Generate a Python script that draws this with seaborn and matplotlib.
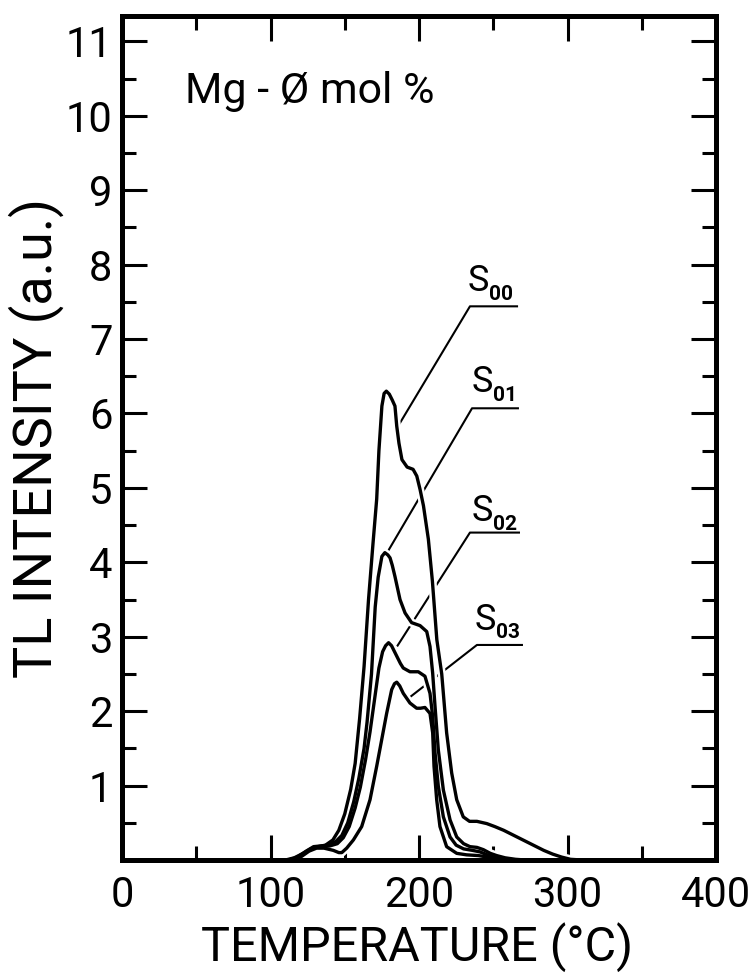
import matplotlib
matplotlib.use("Agg")
import matplotlib.pyplot as plt
import numpy as np
import pandas as pd
import seaborn as sns
from matplotlib.ticker import FixedLocator, MultipleLocator

# ---- glow curves: temperature (°C) and TL intensity (a.u.) ----
s00_temp = [110, 116, 122, 127, 132, 137, 142, 146, 150, 154, 157, 160, 163, 166,
            169, 171.5, 173, 175, 176.5, 178, 180, 182, 183.8, 185, 186.5, 188.5,
            192, 196, 198.5, 200.7, 203, 206.3, 209, 212, 215.3, 218.6, 222, 225.4,
            229.8, 234, 239, 245.6, 251, 257, 263, 270, 277, 284, 290, 296, 302, 310]
s00_int = [0.0, 0.03, 0.09, 0.15, 0.18, 0.20, 0.27, 0.40, 0.62, 0.95, 1.30, 1.90, 2.60, 3.50,
           4.25, 4.85, 5.50, 6.10, 6.27, 6.30, 6.26, 6.18, 6.10, 5.83, 5.60, 5.38,
           5.28, 5.25, 5.16, 4.98, 4.76, 4.31, 3.75, 2.96, 2.50, 1.71, 1.17, 0.81,
           0.58, 0.52, 0.52, 0.49, 0.45, 0.40, 0.34, 0.27, 0.20, 0.13, 0.08, 0.04, 0.01, 0.0]

s01_temp = [112, 118, 124, 129, 134, 139, 144, 148, 152, 156, 159.5, 163, 165, 168,
            170.5, 172.5, 175, 177, 179, 180.5, 182, 183.8, 187.2, 190.6, 195, 200.7,
            205.2, 207.4, 209.2, 210.8, 213, 216.4, 220.9, 225.4, 230, 234.3, 239,
            243.3, 248, 252.3, 258, 265, 272]
s01_int = [0.0, 0.04, 0.12, 0.18, 0.19, 0.20, 0.25, 0.33, 0.50, 0.78, 1.10, 1.50, 1.85, 2.50,
           3.40, 3.80, 4.08, 4.13, 4.10, 4.06, 3.96, 3.81, 3.50, 3.32, 3.19, 3.15,
           3.07, 2.87, 2.51, 2.06, 1.48, 0.94, 0.54, 0.31, 0.22, 0.18, 0.17,
           0.14, 0.09, 0.06, 0.03, 0.01, 0.0]

s02_temp = [114, 120, 125, 130, 135, 140, 145, 149, 153, 157, 160.5, 164, 167, 170,
            173, 175.5, 177.5, 179.5, 181.5, 183.5, 185, 187.5, 189.4, 193.9, 199.5,
            204, 207.4, 209.2, 210.8, 213, 216.4, 220.9, 225, 230, 236, 241, 246,
            252, 260, 266]
s02_int = [0.0, 0.05, 0.12, 0.17, 0.18, 0.19, 0.22, 0.30, 0.45, 0.70, 0.98, 1.35, 1.72, 2.15,
           2.58, 2.80, 2.88, 2.92, 2.88, 2.80, 2.74, 2.64, 2.58, 2.53, 2.53,
           2.47, 2.24, 1.93, 1.44, 0.99, 0.58, 0.31, 0.20, 0.15, 0.13, 0.11, 0.07,
           0.04, 0.01, 0.0]

s03_temp = [116, 121, 126, 131, 136, 142.3, 146, 148, 151.3, 155.8, 161.4, 167, 171.5,
            174.9, 178.2, 181.6, 183.5, 185, 187, 189.4, 193.9, 198.4, 201, 204, 207.4,
            209.2, 210.1, 211.9, 214.1, 218.6, 225.4, 232, 240, 246, 254, 260]
s03_int = [0.0, 0.05, 0.12, 0.16, 0.16, 0.13, 0.10, 0.10, 0.16, 0.27, 0.45, 0.81, 1.26,
           1.62, 1.97, 2.29, 2.37, 2.39, 2.34, 2.24, 2.11, 2.04, 2.04, 2.05, 1.97,
           1.71, 1.26, 0.81, 0.45, 0.18, 0.09, 0.07, 0.06, 0.04, 0.01, 0.0]

sample_ids = ["00", "01", "02", "03"]
temps = [s00_temp, s01_temp, s02_temp, s03_temp]
intensities = [s00_int, s01_int, s02_int, s03_int]

x_tick_values = [0, 100, 200, 300, 400]
x_tick_labels = ["0", "100", "200", "300", "400"]
y_tick_values = [1, 2, 3, 4, 5, 6, 7, 8, 9, 10, 11]
y_tick_labels = [str(v) for v in y_tick_values]

annotation_text = "Mg - Ø mol %"
x_title = "TEMPERATURE (°C)"
y_title = "TL INTENSITY (a.u.)"

# long-form table for seaborn
df = pd.concat(
    [pd.DataFrame({"T": t, "I": i, "sample": "S" + s})
     for s, t, i in zip(sample_ids, temps, intensities)],
    ignore_index=True,
)

# ---- style ----
sns.set_theme(style="white")
plt.rcParams["font.family"] = ["Roboto", "Liberation Sans", "DejaVu Sans"]
plt.rcParams["font.weight"] = "normal"
plt.rcParams["axes.edgecolor"] = "black"
plt.rcParams["xtick.color"] = "black"
plt.rcParams["ytick.color"] = "black"

fig = plt.figure(figsize=(7.56, 9.80), dpi=100)
fig.patch.set_facecolor("white")
ax = fig.add_axes([0.1614, 0.1224, 0.7857, 0.8612])
ax.set_facecolor("white")

# label layout: text anchor (S left / baseline), underline span, leader end on curve
label_text_pos = [(233.0, 7.645), (235.7, 6.285), (235.7, 4.55), (237.7, 3.096)]
underline_y = [7.44, 6.07, 4.40, 2.89]
underline_x = [(234.3, 266.7), (235.7, 267.3), (234.3, 268.0), (239.0, 270.0)]
leader_end = [(185.9, 5.83), (179.1, 4.15), (185.2, 2.87), (193.3, 2.18)]

for (tx, ty), uy, (ux0, ux1), (lx, ly), sid in zip(
        label_text_pos, underline_y, underline_x, leader_end, sample_ids):
    ax.plot([ux1, ux0, lx], [uy, uy, ly], color="black", lw=1.5,
            solid_capstyle="butt", zorder=2)
    s_txt = ax.text(tx, ty, "S", fontsize=26, ha="left", va="baseline",
                    color="black", zorder=6)
    ax.annotate(sid, xy=(1, 0), xycoords=s_txt, xytext=(-0.5, -0.5),
                textcoords="offset points", fontsize=15, fontweight="bold",
                ha="left", va="baseline", color="black", zorder=6)

# white casing breaks the leader lines where curves pass over them
sns.lineplot(data=df, x="T", y="I", units="sample", estimator=None, sort=False,
             color="white", lw=6.0, legend=False, ax=ax, zorder=3)
sns.lineplot(data=df, x="T", y="I", units="sample", estimator=None, sort=False,
             color="black", lw=2.4, legend=False, ax=ax, zorder=4)

ax.set_xlim(0, 400)
ax.set_ylim(0, 11.34)

ax.xaxis.set_major_locator(FixedLocator(x_tick_values))
ax.set_xticklabels(x_tick_labels)
ax.xaxis.set_minor_locator(MultipleLocator(50))
ax.yaxis.set_major_locator(FixedLocator(y_tick_values))
ax.set_yticklabels(y_tick_labels)
ax.yaxis.set_minor_locator(MultipleLocator(0.5))

ax.tick_params(which="major", direction="in", length=18, width=2.2,
               top=True, right=True, bottom=True, left=True)
ax.tick_params(which="minor", direction="in", length=10, width=2.2,
               top=True, right=True, bottom=True, left=True)
ax.tick_params(axis="x", which="major", labelsize=30, pad=11)
ax.tick_params(axis="y", which="major", labelsize=30, pad=7)

for sp in ax.spines.values():
    sp.set_visible(True)
    sp.set_linewidth(3.6)
    sp.set_color("black")
    sp.set_zorder(7)

ax.set_xlabel(x_title, fontsize=35, color="black")
ax.set_ylabel(y_title, fontsize=39, color="black")
ax.xaxis.set_label_coords(0.496, -0.074)
ax.yaxis.set_label_coords(-0.097, 0.50)

ax.text(0.106, 0.897, annotation_text, transform=ax.transAxes, fontsize=31,
        ha="left", va="baseline", color="black")

ax.grid(False)
fig.savefig("out.png", dpi=100, facecolor="white")
